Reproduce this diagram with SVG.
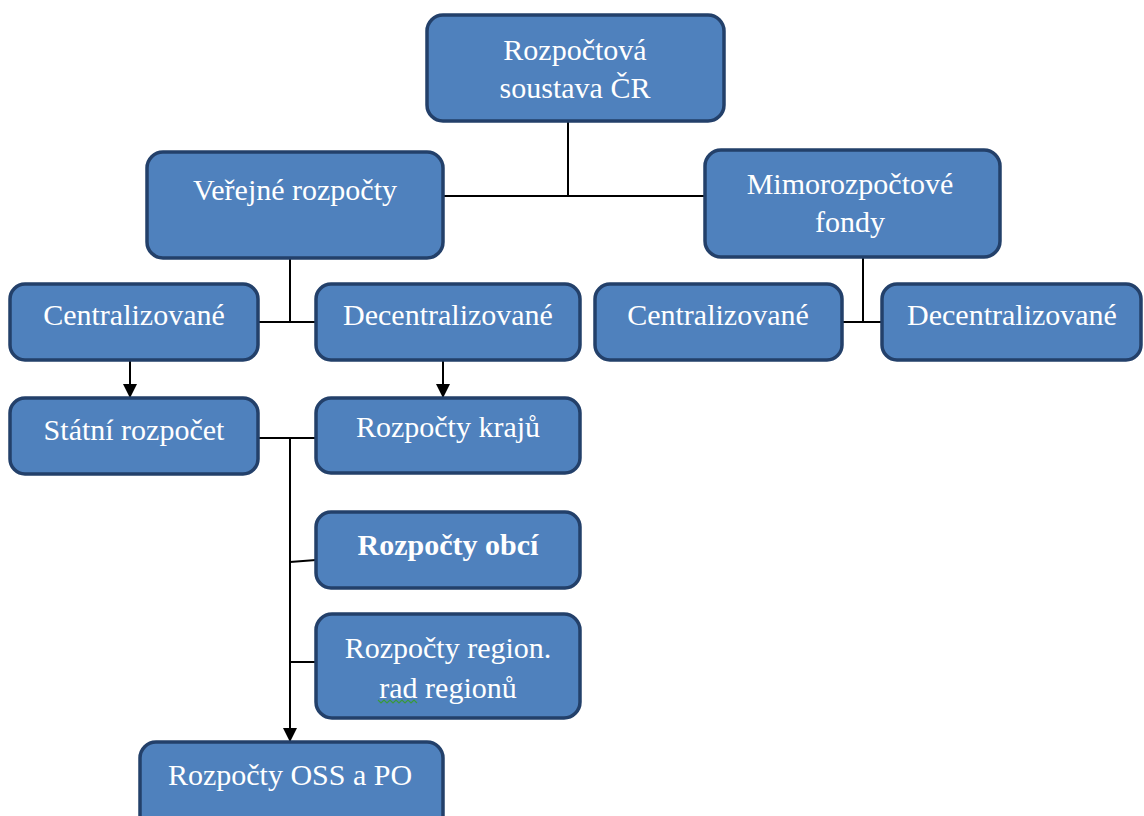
<svg xmlns="http://www.w3.org/2000/svg" width="1144" height="816" viewBox="0 0 1144 816">
<style>
.box{fill:#4F81BD;stroke:#23406A;stroke-width:3.5}
.t{font-family:"Liberation Serif","Times New Roman",serif;font-size:30px;fill:#FFFFFF;text-anchor:middle}
.b{font-weight:bold}
.c{fill:none;stroke:#000;stroke-width:2}
</style>
<defs>
<marker id="ah" markerWidth="14" markerHeight="14" refX="13" refY="7" orient="auto" markerUnits="userSpaceOnUse">
<path d="M0,0 L14,7 L0,14 Z" fill="#000"/>
</marker>
</defs>
<rect width="1144" height="816" fill="#FFFFFF"/>
<g id="connectors">
<path class="c" d="M568,121 V196 M443,196 H705"/>
<path class="c" d="M290,258 V322 M258,322 H316"/>
<path class="c" d="M863,257 V322 M842,322 H882"/>
<path class="c" d="M130,360 V397" marker-end="url(#ah)"/>
<path class="c" d="M443,360 V397" marker-end="url(#ah)"/>
<path class="c" d="M258,438 H316"/>
<path class="c" d="M290,438 V741" marker-end="url(#ah)"/>
<path class="c" d="M290,562 L316,560"/>
<path class="c" d="M290,662 H316"/>
</g>
<g id="n-root"><rect class="box" x="427" y="15" width="297" height="106" rx="16"/>
<text class="t" x="575" y="60">Rozpočtová</text><text class="t" x="575" y="98">soustava ČR</text></g>
<g id="n-verejne"><rect class="box" x="147" y="152" width="296" height="106" rx="16"/>
<text class="t" x="295" y="200">Veřejné rozpočty</text></g>
<g id="n-mimo"><rect class="box" x="705" y="150" width="295" height="107" rx="16"/>
<text class="t" x="850" y="194">Mimorozpočtové</text><text class="t" x="850" y="232">fondy</text></g>
<g id="n-centr1"><rect class="box" x="10" y="284" width="248" height="76" rx="15"/>
<text class="t" x="134" y="325">Centralizované</text></g>
<g id="n-decentr1"><rect class="box" x="316" y="284" width="264" height="76" rx="15"/>
<text class="t" x="448" y="325">Decentralizované</text></g>
<g id="n-centr2"><rect class="box" x="595" y="284" width="247" height="76" rx="15"/>
<text class="t" x="718" y="325">Centralizované</text></g>
<g id="n-decentr2"><rect class="box" x="882" y="284" width="259" height="76" rx="15"/>
<text class="t" x="1012" y="325">Decentralizované</text></g>
<g id="n-statni"><rect class="box" x="10" y="398" width="248" height="76" rx="15"/>
<text class="t" x="134" y="440">Státní rozpočet</text></g>
<g id="n-kraje"><rect class="box" x="316" y="398" width="264" height="75" rx="15"/>
<text class="t" x="448" y="437">Rozpočty krajů</text></g>
<g id="n-obce"><rect class="box" x="316" y="512" width="264" height="76" rx="15"/>
<text class="t b" x="448" y="555">Rozpočty obcí</text></g>
<g id="n-region"><rect class="box" x="316" y="614" width="264" height="104" rx="16"/>
<text class="t" x="448" y="658">Rozpočty region.</text><text class="t" x="448" y="698">rad regionů</text>
<path d="M378,700 l3,3 l3,-3 l3,3 l3,-3 l3,3 l3,-3 l3,3 l3,-3 l3,3 l3,-3 l3,3 l3,-3 l3,3" fill="none" stroke="#3A9A3A" stroke-width="1.2"/></g>
<g id="n-oss"><rect class="box" x="140" y="742" width="303" height="90" rx="16"/>
<text class="t" x="290" y="785">Rozpočty OSS a PO</text></g>
</svg>
